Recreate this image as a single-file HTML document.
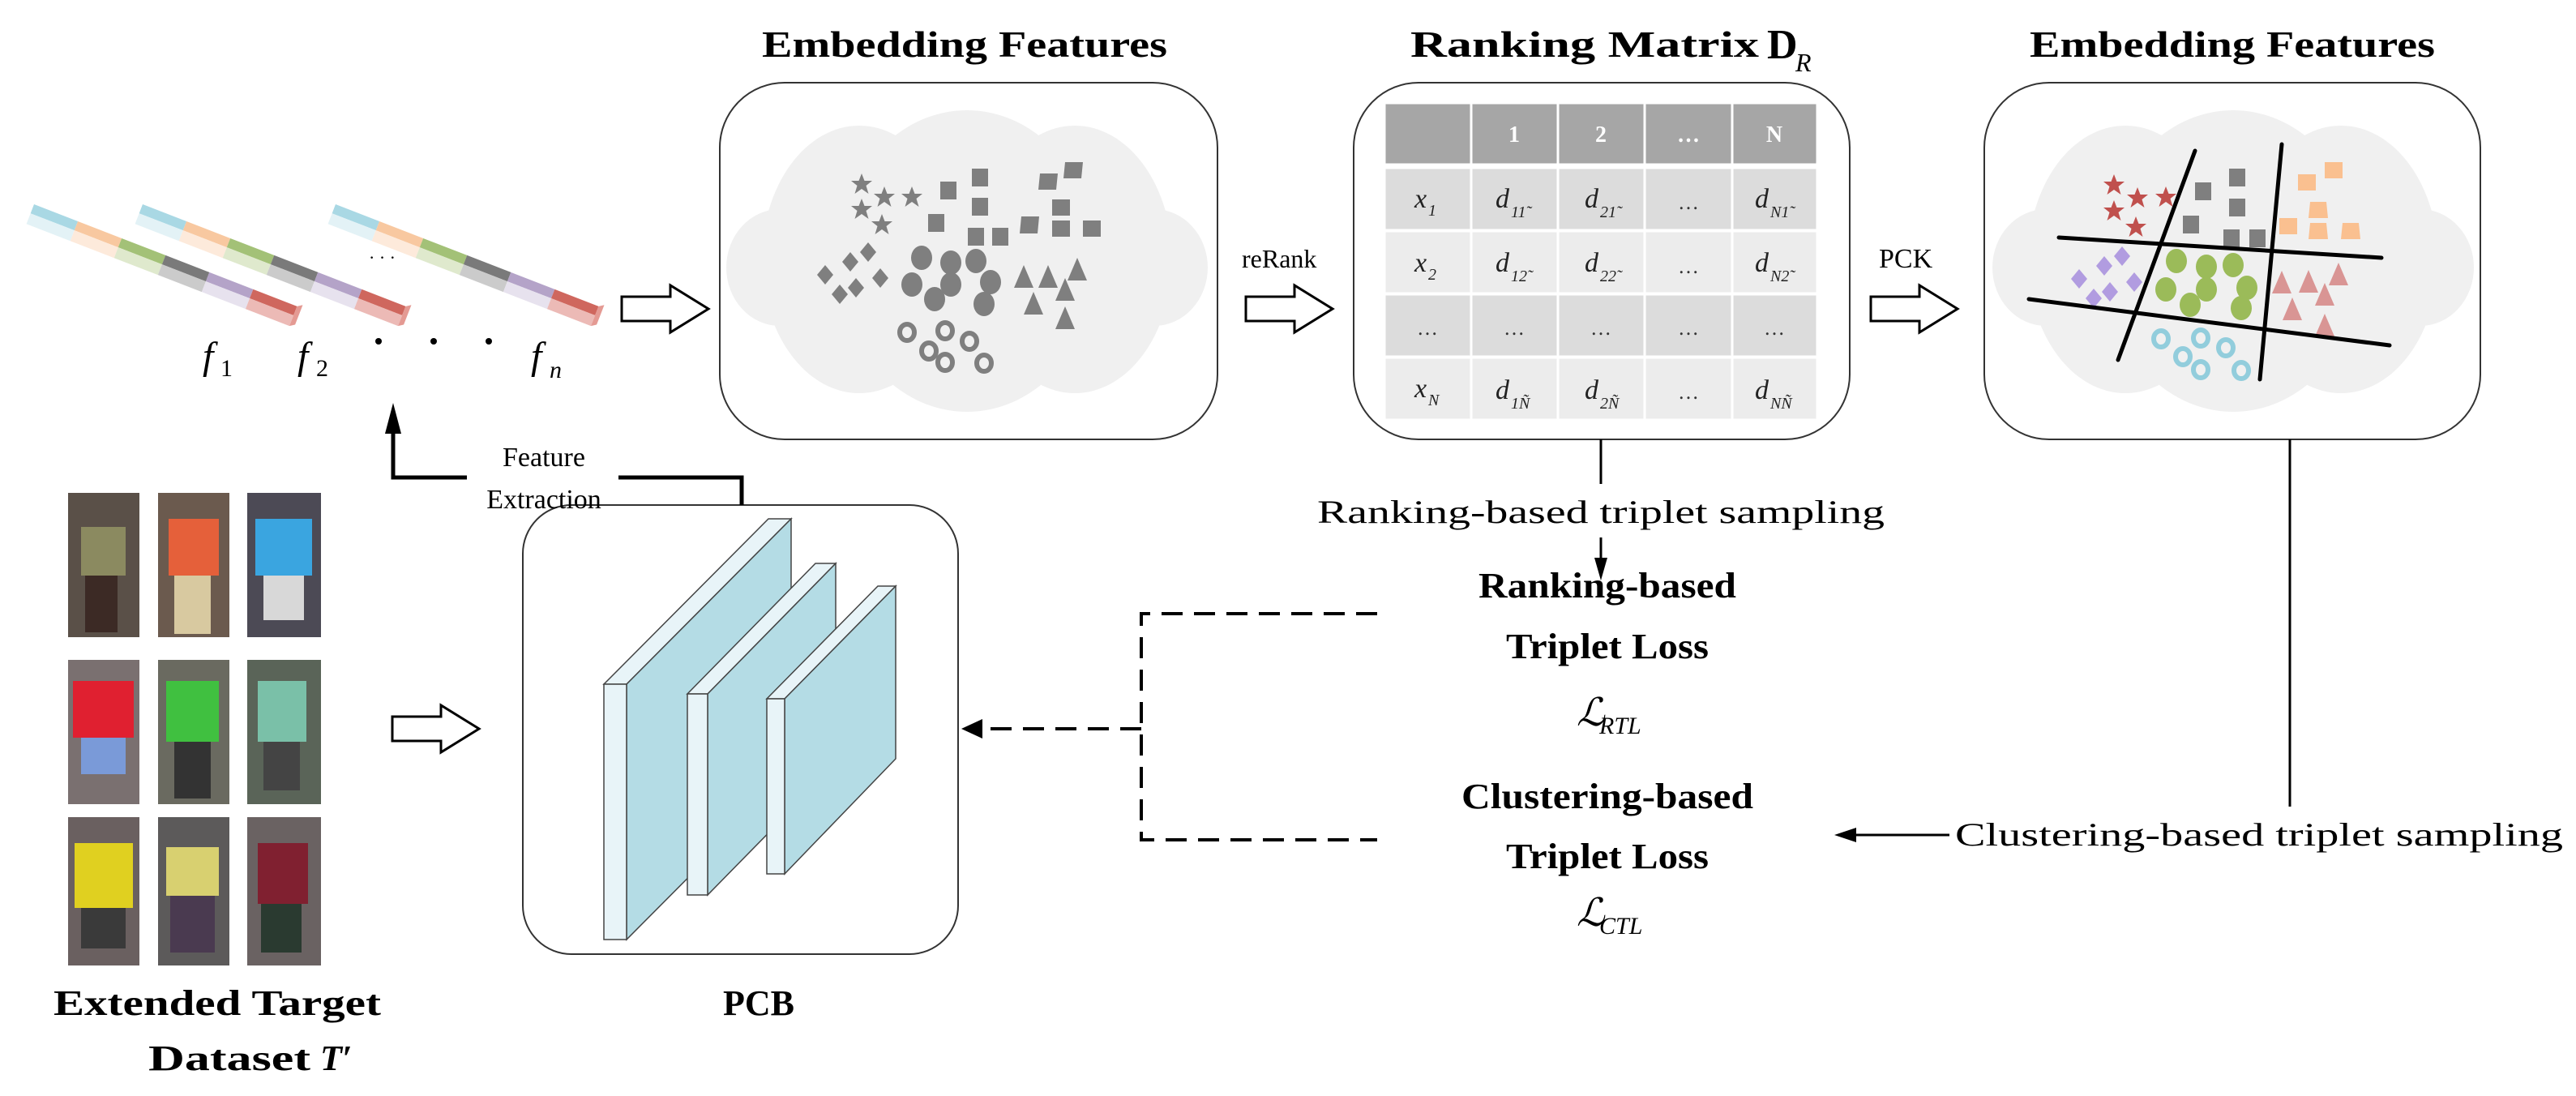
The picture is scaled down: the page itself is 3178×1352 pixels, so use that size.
<!DOCTYPE html>
<html><head><meta charset="utf-8"><style>html,body{margin:0;padding:0;background:#fff}svg{display:block}</style></head>
<body>
<svg width="3178" height="1352" viewBox="0 0 3178 1352" xmlns="http://www.w3.org/2000/svg" font-family="'Liberation Serif',serif">
<defs>
<g id="cloud">
<ellipse cx="1193" cy="322" rx="160" ry="186" fill="#f0f0f0"/>
<ellipse cx="1060" cy="320" rx="120" ry="165" fill="#f0f0f0"/>
<ellipse cx="1326" cy="320" rx="120" ry="165" fill="#f0f0f0"/>
<ellipse cx="962" cy="330" rx="66" ry="72" fill="#f0f0f0"/>
<ellipse cx="1424" cy="330" rx="66" ry="72" fill="#f0f0f0"/>
<rect x="960" y="270" width="466" height="120" fill="#f0f0f0"/>
</g>
<g id="harrow"><path d="M0,-15 H60 V-29 L107,0 L60,29 V15 H0 Z" fill="#fff" stroke="#000" stroke-width="3"/></g>
<g id="star"><polygon points="0,-13 3.5,-4 13,-4 5.5,2 8.5,12 0,6 -8.5,12 -5.5,2 -13,-4 -3.5,-4"/></g>
<g id="bar">
<rect x="0" y="0" width="58" height="12" fill="#a9d8e4"/><rect x="0" y="12" width="58" height="14" fill="#e3f2f6"/>
<rect x="58" y="0" width="58" height="12" fill="#f8c8a0"/><rect x="58" y="12" width="58" height="14" fill="#fdeadb"/>
<rect x="116" y="0" width="58" height="12" fill="#a3c177"/><rect x="116" y="12" width="58" height="14" fill="#dfe9cd"/>
<rect x="174" y="0" width="58" height="12" fill="#7a7a7a"/><rect x="174" y="12" width="58" height="14" fill="#cbcbcb"/>
<rect x="232" y="0" width="58" height="12" fill="#b4a3c8"/><rect x="232" y="12" width="58" height="14" fill="#e7e2ee"/>
<rect x="290" y="0" width="58" height="12" fill="#cf675e"/><rect x="290" y="12" width="58" height="14" fill="#ecbab6"/>
<polygon points="348,0 354,-4 354,22 348,26" fill="#e49a93"/>
</g>
</defs>

<!-- Titles -->
<text x="1190" y="70" font-size="46" font-weight="bold" text-anchor="middle" textLength="500" lengthAdjust="spacingAndGlyphs">Embedding Features</text>
<text x="1955" y="70" font-size="46" font-weight="bold" text-anchor="middle" textLength="430" lengthAdjust="spacingAndGlyphs">Ranking Matrix</text>
<text x="2180" y="72" font-size="52" font-weight="bold">D</text>
<text x="2215" y="88" font-size="32" font-style="italic">R</text>
<text x="2754" y="70" font-size="46" font-weight="bold" text-anchor="middle" textLength="500" lengthAdjust="spacingAndGlyphs">Embedding Features</text>

<!-- Feature bars -->
<use href="#bar" transform="translate(42,252) rotate(21.2)"/>
<use href="#bar" transform="translate(176,252) rotate(21.2)"/>
<use href="#bar" transform="translate(414,252) rotate(21.2)"/>
<text x="455" y="325" font-size="22">·  ·  ·</text>
<text x="250" y="455" font-size="48" font-style="italic">f</text><text x="272" y="464" font-size="30">1</text>
<text x="367" y="455" font-size="48" font-style="italic">f</text><text x="390" y="464" font-size="30">2</text>
<circle cx="467" cy="421" r="4"/><circle cx="535" cy="421" r="4"/><circle cx="603" cy="421" r="4"/>
<text x="655" y="455" font-size="48" font-style="italic">f</text><text x="678" y="466" font-size="30" font-style="italic">n</text>

<use href="#harrow" x="767" y="381"/>
<use href="#harrow" x="1537" y="381"/>
<use href="#harrow" x="2308" y="381"/>
<use href="#harrow" x="484" y="899"/>
<text x="1532" y="330" font-size="32">reRank</text>
<text x="2318" y="330" font-size="34">PCK</text>

<!-- Box 1 -->
<rect x="888" y="102" width="614" height="440" rx="80" fill="#fff" stroke="#333" stroke-width="2"/>
<use href="#cloud"/>
<g fill="#7f7f7f">
<use href="#star" x="1063" y="227"/><use href="#star" x="1091" y="243"/><use href="#star" x="1125" y="243"/><use href="#star" x="1063" y="258"/><use href="#star" x="1088" y="277"/>
<rect x="1199" y="208" width="20" height="22"/><rect x="1160" y="224" width="20" height="22"/><rect x="1199" y="244" width="20" height="22"/><rect x="1145" y="264" width="20" height="22"/><rect x="1194" y="281" width="20" height="22"/><rect x="1224" y="281" width="20" height="22"/>
<polygon points="1314,200 1336,200 1334,220 1312,220"/><polygon points="1283,214 1305,214 1303,234 1281,234"/><polygon points="1298,246 1320,246 1320,266 1298,266"/><polygon points="1260,267 1282,267 1280,288 1258,288"/><polygon points="1298,272 1320,272 1320,292 1298,292"/><polygon points="1336,272 1358,272 1358,292 1336,292"/>
<g id="dias"><polygon points="1071,299 1081,311 1071,323 1061,311"/><polygon points="1049,311 1059,323 1049,335 1039,323"/><polygon points="1018,327 1028,339 1018,351 1008,339"/><polygon points="1086,331 1096,343 1086,355 1076,343"/><polygon points="1056,343 1066,355 1056,367 1046,355"/><polygon points="1036,351 1046,363 1036,375 1026,363"/></g>
<ellipse cx="1137" cy="318" rx="13" ry="15"/><ellipse cx="1173" cy="324" rx="13" ry="15"/><ellipse cx="1204" cy="322" rx="13" ry="15"/><ellipse cx="1125" cy="351" rx="13" ry="15"/><ellipse cx="1173" cy="351" rx="13" ry="15"/><ellipse cx="1222" cy="348" rx="13" ry="15"/><ellipse cx="1153" cy="369" rx="13" ry="15"/><ellipse cx="1214" cy="375" rx="13" ry="15"/>
<polygon points="1263,327 1275,355 1251,355"/><polygon points="1293,327 1305,355 1281,355"/><polygon points="1329,318 1341,346 1317,346"/><polygon points="1314,343 1326,371 1302,371"/><polygon points="1275,360 1287,388 1263,388"/><polygon points="1314,378 1326,406 1302,406"/>
</g>
<g fill="none" stroke="#7f7f7f" stroke-width="6">
<ellipse cx="1119" cy="410" rx="9" ry="10"/><ellipse cx="1166" cy="408" rx="9" ry="10"/><ellipse cx="1196" cy="421" rx="9" ry="10"/><ellipse cx="1146" cy="433" rx="9" ry="10"/><ellipse cx="1166" cy="447" rx="9" ry="10"/><ellipse cx="1214" cy="448" rx="9" ry="10"/>
</g>

<!-- Box 2 matrix -->
<rect x="1670" y="102" width="612" height="440" rx="80" fill="#fff" stroke="#333" stroke-width="2"/>
<g stroke="#fff" stroke-width="3">
<rect x="1708" y="127" width="534" height="76" fill="#a6a6a6"/>
<rect x="1708" y="207" width="534" height="77" fill="#dcdcdc"/>
<rect x="1708" y="285" width="534" height="77" fill="#ececec"/>
<rect x="1708" y="363" width="534" height="77" fill="#dcdcdc"/>
<rect x="1708" y="441" width="534" height="77" fill="#ececec"/>
<line x1="1815" y1="127" x2="1815" y2="518"/><line x1="1922" y1="127" x2="1922" y2="518"/><line x1="2029" y1="127" x2="2029" y2="518"/><line x1="2137" y1="127" x2="2137" y2="518"/>
</g>
<g font-size="28" fill="#fff" font-weight="bold" text-anchor="middle">
<text x="1868" y="175">1</text><text x="1975" y="175">2</text><text x="2083" y="175">…</text><text x="2189" y="175">N</text>
</g>
<g font-size="34" font-style="italic" fill="#222">
<text x="1745" y="256">x</text><text x="1762" y="266" font-size="20">1</text>
<text x="1745" y="335">x</text><text x="1762" y="345" font-size="20">2</text>
<text x="1745" y="490">x</text><text x="1762" y="500" font-size="20">N</text>
<text x="1845" y="256">d</text><text x="1864" y="268" font-size="20">11̃</text>
<text x="1955" y="256">d</text><text x="1974" y="268" font-size="20">21̃</text>
<text x="2165" y="256">d</text><text x="2184" y="268" font-size="20">N1̃</text>
<text x="1845" y="335">d</text><text x="1864" y="347" font-size="20">12̃</text>
<text x="1955" y="335">d</text><text x="1974" y="347" font-size="20">22̃</text>
<text x="2165" y="335">d</text><text x="2184" y="347" font-size="20">N2̃</text>
<text x="1845" y="492">d</text><text x="1864" y="504" font-size="20">1Ñ</text>
<text x="1955" y="492">d</text><text x="1974" y="504" font-size="20">2Ñ</text>
<text x="2165" y="492">d</text><text x="2184" y="504" font-size="20">NÑ</text>
</g>
<g font-size="26" fill="#333" text-anchor="middle">
<text x="2083" y="258">…</text><text x="2083" y="337">…</text><text x="2083" y="492">…</text>
<text x="1761" y="413">…</text><text x="1868" y="413">…</text><text x="1975" y="413">…</text><text x="2083" y="413">…</text><text x="2189" y="413">…</text>
</g>

<!-- Box 3 -->
<rect x="2448" y="102" width="612" height="440" rx="80" fill="#fff" stroke="#333" stroke-width="2"/>
<use href="#cloud" x="1562"/>
<g fill="#c0504d">
<use href="#star" x="2608" y="228"/><use href="#star" x="2637" y="244"/><use href="#star" x="2672" y="243"/><use href="#star" x="2608" y="260"/><use href="#star" x="2635" y="280"/>
</g>
<g fill="#7f7f7f"><rect x="2750" y="208" width="20" height="22"/><rect x="2708" y="225" width="20" height="22"/><rect x="2750" y="245" width="20" height="22"/><rect x="2693" y="266" width="20" height="22"/><rect x="2743" y="283" width="20" height="22"/><rect x="2775" y="283" width="20" height="22"/></g>
<g fill="#fac090"><polygon points="2868,200 2890,200 2890,220 2868,220"/><polygon points="2835,215 2857,215 2857,235 2835,235"/><polygon points="2850,249 2870,249 2872,269 2848,269"/><polygon points="2812,269 2834,269 2834,289 2812,289"/><polygon points="2850,275 2870,275 2872,295 2848,295"/><polygon points="2890,275 2910,275 2912,295 2888,295"/></g>
<g fill="#b19ce0"><use href="#dias" x="1547" y="5"/></g>
<g fill="#9bbb59"><ellipse cx="2685" cy="322" rx="13" ry="15"/><ellipse cx="2722" cy="329" rx="13" ry="15"/><ellipse cx="2755" cy="327" rx="13" ry="15"/><ellipse cx="2672" cy="357" rx="13" ry="15"/><ellipse cx="2722" cy="357" rx="13" ry="15"/><ellipse cx="2772" cy="355" rx="13" ry="15"/><ellipse cx="2702" cy="376" rx="13" ry="15"/><ellipse cx="2765" cy="380" rx="13" ry="15"/></g>
<g fill="#d99594"><polygon points="2815,334 2827,362 2803,362"/><polygon points="2848,333 2860,361 2836,361"/><polygon points="2885,324 2897,352 2873,352"/><polygon points="2868,349 2880,377 2856,377"/><polygon points="2828,367 2840,395 2816,395"/><polygon points="2868,387 2880,415 2856,415"/></g>
<g fill="none" stroke="#92cddc" stroke-width="6"><ellipse cx="2666" cy="418" rx="9" ry="10"/><ellipse cx="2715" cy="417" rx="9" ry="10"/><ellipse cx="2746" cy="429" rx="9" ry="10"/><ellipse cx="2693" cy="440" rx="9" ry="10"/><ellipse cx="2715" cy="456" rx="9" ry="10"/><ellipse cx="2765" cy="457" rx="9" ry="10"/></g>
<g stroke="#000" stroke-width="5" stroke-linecap="round"><line x1="2708" y1="186" x2="2613" y2="444"/><line x1="2815" y1="178" x2="2788" y2="468"/><line x1="2540" y1="293" x2="2938" y2="318"/><line x1="2503" y1="369" x2="2948" y2="426"/></g>

<!-- Ranking sampling -->
<line x1="1975" y1="542" x2="1975" y2="597" stroke="#000" stroke-width="3"/>
<text x="1975" y="645" font-size="40" text-anchor="middle" textLength="700" lengthAdjust="spacingAndGlyphs">Ranking-based triplet sampling</text>
<line x1="1975" y1="663" x2="1975" y2="690" stroke="#000" stroke-width="3"/>
<polygon points="1967,688 1983,688 1975,716"/>

<!-- Clustering sampling -->
<line x1="2825" y1="542" x2="2825" y2="995" stroke="#000" stroke-width="3"/>
<text x="2787" y="1043" font-size="40" text-anchor="middle" textLength="750" lengthAdjust="spacingAndGlyphs">Clustering-based triplet sampling</text>
<line x1="2405" y1="1030" x2="2285" y2="1030" stroke="#000" stroke-width="3"/>
<polygon points="2290,1021 2290,1039 2263,1030"/>

<!-- Losses -->
<g font-weight="bold" font-size="44" text-anchor="middle">
<text x="1983" y="737" textLength="318" lengthAdjust="spacingAndGlyphs">Ranking-based</text>
<text x="1983" y="812" textLength="250" lengthAdjust="spacingAndGlyphs">Triplet Loss</text>
<text x="1983" y="997" textLength="360" lengthAdjust="spacingAndGlyphs">Clustering-based</text>
<text x="1983" y="1071" textLength="250" lengthAdjust="spacingAndGlyphs">Triplet Loss</text>
</g>
<text x="1945" y="895" font-size="48" font-style="italic">ℒ</text><text x="1973" y="905" font-size="30" font-style="italic">RTL</text>
<text x="1945" y="1142" font-size="48" font-style="italic">ℒ</text><text x="1973" y="1152" font-size="30" font-style="italic">CTL</text>

<!-- Dashed connectors -->
<g stroke="#000" stroke-width="4" stroke-dasharray="26,14" fill="none">
<polyline points="1699,757 1408,757 1408,1036 1699,1036"/>
<line x1="1408" y1="899" x2="1215" y2="899"/>
</g>
<polygon points="1212,887 1212,911 1186,899"/>

<!-- PCB -->
<rect x="645" y="623" width="537" height="554" rx="60" fill="#fff" stroke="#333" stroke-width="2"/>
<g stroke="#444" stroke-width="1.5">
<polygon points="745,844 773,844 976,640 948,640" fill="#e8f4f8"/>
<polygon points="773,844 976,640 976,955 773,1159" fill="#b4dce5"/>
<rect x="745" y="844" width="28" height="315" fill="#e8f4f8"/>
<polygon points="848,856 873,856 1031,695 1006,695" fill="#e8f4f8"/>
<polygon points="873,856 1031,695 1031,943 873,1104" fill="#b4dce5"/>
<rect x="848" y="856" width="25" height="248" fill="#e8f4f8"/>
<polygon points="946,862 968,862 1105,723 1083,723" fill="#e8f4f8"/>
<polygon points="968,862 1105,723 1105,936 968,1078" fill="#b4dce5"/>
<rect x="946" y="862" width="22" height="216" fill="#e8f4f8"/>
</g>
<text x="936" y="1252" font-size="44" font-weight="bold" text-anchor="middle">PCB</text>

<!-- Feature extraction connector -->
<polyline points="763,589 915,589 915,623" fill="none" stroke="#000" stroke-width="5"/>
<polyline points="576,589 485,589 485,530" fill="none" stroke="#000" stroke-width="5"/>
<polygon points="475,535 495,535 485,497"/>
<text x="671" y="575" font-size="34" text-anchor="middle">Feature</text>
<text x="671" y="627" font-size="34" text-anchor="middle">Extraction</text>

<!-- Dataset images -->
<g>
<rect x="84" y="608" width="88" height="178" fill="#5a5048"/><rect x="100" y="650" width="55" height="60" fill="#8b8a60"/><rect x="105" y="710" width="40" height="70" fill="#3c2a25"/>
<rect x="195" y="608" width="88" height="178" fill="#6b5a4e"/><rect x="208" y="640" width="62" height="70" fill="#e5603a"/><rect x="215" y="710" width="45" height="72" fill="#d8c9a0"/>
<rect x="305" y="608" width="91" height="178" fill="#4c4a55"/><rect x="315" y="640" width="70" height="70" fill="#3aa5e0"/><rect x="325" y="710" width="50" height="55" fill="#d8d8d8"/>
<rect x="84" y="814" width="88" height="178" fill="#7a7070"/><rect x="90" y="840" width="75" height="70" fill="#e02030"/><rect x="100" y="910" width="55" height="45" fill="#7a9ad8"/>
<rect x="195" y="814" width="88" height="178" fill="#6a6a60"/><rect x="205" y="840" width="65" height="75" fill="#40c040"/><rect x="215" y="915" width="45" height="70" fill="#333"/>
<rect x="305" y="814" width="91" height="178" fill="#5a6458"/><rect x="318" y="840" width="60" height="75" fill="#7ac0a8"/><rect x="325" y="915" width="45" height="60" fill="#444"/>
<rect x="84" y="1008" width="88" height="183" fill="#6a6060"/><rect x="92" y="1040" width="72" height="80" fill="#e0d020"/><rect x="100" y="1120" width="55" height="50" fill="#3a3a3a"/>
<rect x="195" y="1008" width="88" height="183" fill="#5c5a5a"/><rect x="205" y="1045" width="65" height="60" fill="#d8d070"/><rect x="210" y="1105" width="55" height="70" fill="#4a3a50"/>
<rect x="305" y="1008" width="91" height="183" fill="#6a6262"/><rect x="318" y="1040" width="62" height="75" fill="#802030"/><rect x="322" y="1115" width="50" height="60" fill="#2a3a30"/>
</g>
<text x="268" y="1252" font-size="44" font-weight="bold" text-anchor="middle" textLength="404" lengthAdjust="spacingAndGlyphs">Extended Target</text>
<text x="183" y="1320" font-size="44" font-weight="bold" textLength="200" lengthAdjust="spacingAndGlyphs">Dataset</text>
<text x="395" y="1320" font-size="44" font-weight="bold" font-style="italic">T′</text>
</svg>
</body></html>
